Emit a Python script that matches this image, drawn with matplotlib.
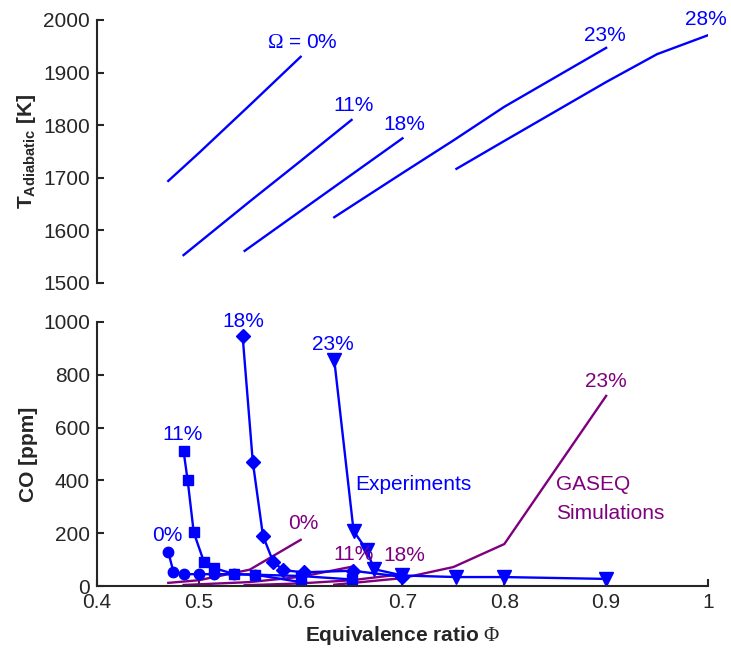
import numpy as np
from matplotlib import pyplot as plt

plt.rcParams['font.family'] = ['Liberation Sans', 'DejaVu Sans']
plt.rcParams['mathtext.fontset'] = 'custom'
plt.rcParams['mathtext.rm'] = 'Liberation Serif'
plt.rcParams['mathtext.bf'] = 'Liberation Sans:bold'

blue = '#0000ff'
purple = '#7f007f'
grey = '#262626'
fs = 15

# adiabatic flame temperature (top panel)
t_phi_0 = [0.47, 0.50, 0.55, 0.60]
t_val_0 = [1694, 1747, 1838, 1930]
t_phi_11 = [0.485, 0.55, 0.60, 0.65]
t_val_11 = [1553, 1655, 1732, 1810]
t_phi_18 = [0.545, 0.60, 0.65, 0.70]
t_val_18 = [1561, 1637, 1706, 1775]
t_phi_23 = [0.633, 0.70, 0.75, 0.80, 0.90]
t_val_23 = [1625, 1709, 1771, 1835, 1947]
t_phi_28 = [0.753, 0.80, 0.90, 0.95, 1.00]
t_val_28 = [1717, 1770, 1882, 1935, 1971]

# CO experiments
e_phi_0 = [0.47, 0.475, 0.485, 0.50, 0.515, 0.535, 0.555, 0.60]
e_co_0 = [128, 55, 45, 45, 45, 45, 43, 15]
e_phi_11 = [0.485, 0.489, 0.495, 0.505, 0.515, 0.535, 0.555, 0.60, 0.65]
e_co_11 = [511, 401, 203, 92, 68, 45, 43, 38, 25]
e_phi_18 = [0.543, 0.553, 0.563, 0.573, 0.583, 0.603, 0.651, 0.70]
e_co_18 = [947, 470, 190, 92, 60, 52, 58, 35]
e_phi_23 = [0.633, 0.652, 0.665, 0.672, 0.70, 0.753, 0.80, 0.90]
e_co_23 = [856, 208, 136, 64, 40, 34, 34, 27]

# CO GASEQ simulations
s_phi_0 = [0.47, 0.50, 0.55, 0.60]
s_co_0 = [12, 22, 62, 175]
s_phi_11 = [0.485, 0.55, 0.60, 0.65]
s_co_11 = [4, 15, 35, 73]
s_phi_18 = [0.545, 0.60, 0.65, 0.70]
s_co_18 = [3, 10, 22, 45]
s_phi_23 = [0.633, 0.70, 0.75, 0.80, 0.90]
s_co_23 = [5, 30, 72, 159, 720]

fig = plt.figure(figsize=(7.31, 6.57), dpi=100)
ax1 = fig.add_axes([0.1327, 0.5693, 0.8358, 0.4003])
ax2 = fig.add_axes([0.1327, 0.108, 0.8358, 0.402])

def style(ax):
    for s in ['top', 'right']:
        ax.spines[s].set_visible(False)
    for s in ['left', 'bottom']:
        ax.spines[s].set_color(grey)
        ax.spines[s].set_linewidth(1.5)
    ax.tick_params(direction='in', length=5, width=1.5, color=grey,
                   labelcolor=grey, labelsize=fs, pad=5)

# top panel
style(ax1)
ax1.spines['bottom'].set_visible(False)
ax1.tick_params(axis='x', bottom=False, labelbottom=False)
for p, t in [(t_phi_0, t_val_0), (t_phi_11, t_val_11), (t_phi_18, t_val_18),
             (t_phi_23, t_val_23), (t_phi_28, t_val_28)]:
    ax1.plot(p, t, color=blue, lw=1.7)
ax1.set_xlim(0.4, 1.0)
ax1.set_ylim(1500, 2000)
ax1.set_yticks(np.arange(1500, 2001, 100))
ax1.set_ylabel(r'$\mathbf{T_{Adiabatic}}$ [K]', fontsize=fs, fontweight='bold',
               color=grey, labelpad=4)
tkw = dict(color=blue, fontsize=fs, ha='center', va='center')
ax1.text(0.602, 1958, r'$\Omega$ = 0%', **tkw)
ax1.text(0.652, 1838, '11%', **tkw)
ax1.text(0.7016, 1802, '18%', **tkw)
ax1.text(0.899, 1971, '23%', **tkw)
ax1.text(0.998, 2000, '28%', **tkw)

# bottom panel
style(ax2)
mk = dict(color=blue, lw=1.7, markersize=7.5)
ax2.plot(s_phi_0, s_co_0, color=purple, lw=1.7)
ax2.plot(s_phi_11, s_co_11, color=purple, lw=1.7)
ax2.plot(s_phi_18, s_co_18, color=purple, lw=1.7)
ax2.plot(s_phi_23, s_co_23, color=purple, lw=1.7)
ax2.plot(e_phi_0, e_co_0, marker='o', **mk)
ax2.plot(e_phi_11, e_co_11, marker='s', **mk)
ax2.plot(e_phi_18, e_co_18, marker='D', **mk)
ax2.plot(e_phi_23, e_co_23, marker='v', markersize=9.5, color=blue, lw=1.7)
ax2.set_xlim(0.4, 1.0)
ax2.set_ylim(0, 1000)
ax2.set_yticks(np.arange(0, 1001, 200))
ax2.set_xticks(np.arange(0.4, 1.01, 0.1))
ax2.set_xticklabels(['0.4', '0.5', '0.6', '0.7', '0.8', '0.9', '1'])
ax2.set_ylabel('CO [ppm]', fontsize=fs, fontweight='bold', color=grey, labelpad=4)
ax2.set_xlabel(r'Equivalence ratio $\Phi$', fontsize=fs, fontweight='bold',
               color=grey, labelpad=9)

bkw = dict(color=blue, fontsize=fs, ha='center', va='center')
ax2.text(0.4688, 193, '0%', **bkw)
ax2.text(0.4845, 572, '11%', **bkw)
ax2.text(0.5434, 1000, '18%', **bkw)
ax2.text(0.6318, 913, '23%', **bkw)
ax2.text(0.6534, 386, 'Experiments', color=blue, fontsize=fs, ha='left', va='center')

pkw = dict(color=purple, fontsize=fs, ha='center', va='center')
ax2.text(0.6024, 235, '0%', **pkw)
ax2.text(0.6524, 121, '11%', **pkw)
ax2.text(0.7016, 114, '18%', **pkw)
ax2.text(0.90, 776, '23%', **pkw)
ax2.text(0.851, 386, 'GASEQ', color=purple, fontsize=fs, ha='left', va='center')
ax2.text(0.851, 273, 'Simulations', color=purple, fontsize=fs, ha='left', va='center')

fig.savefig('out.png', dpi=100)
